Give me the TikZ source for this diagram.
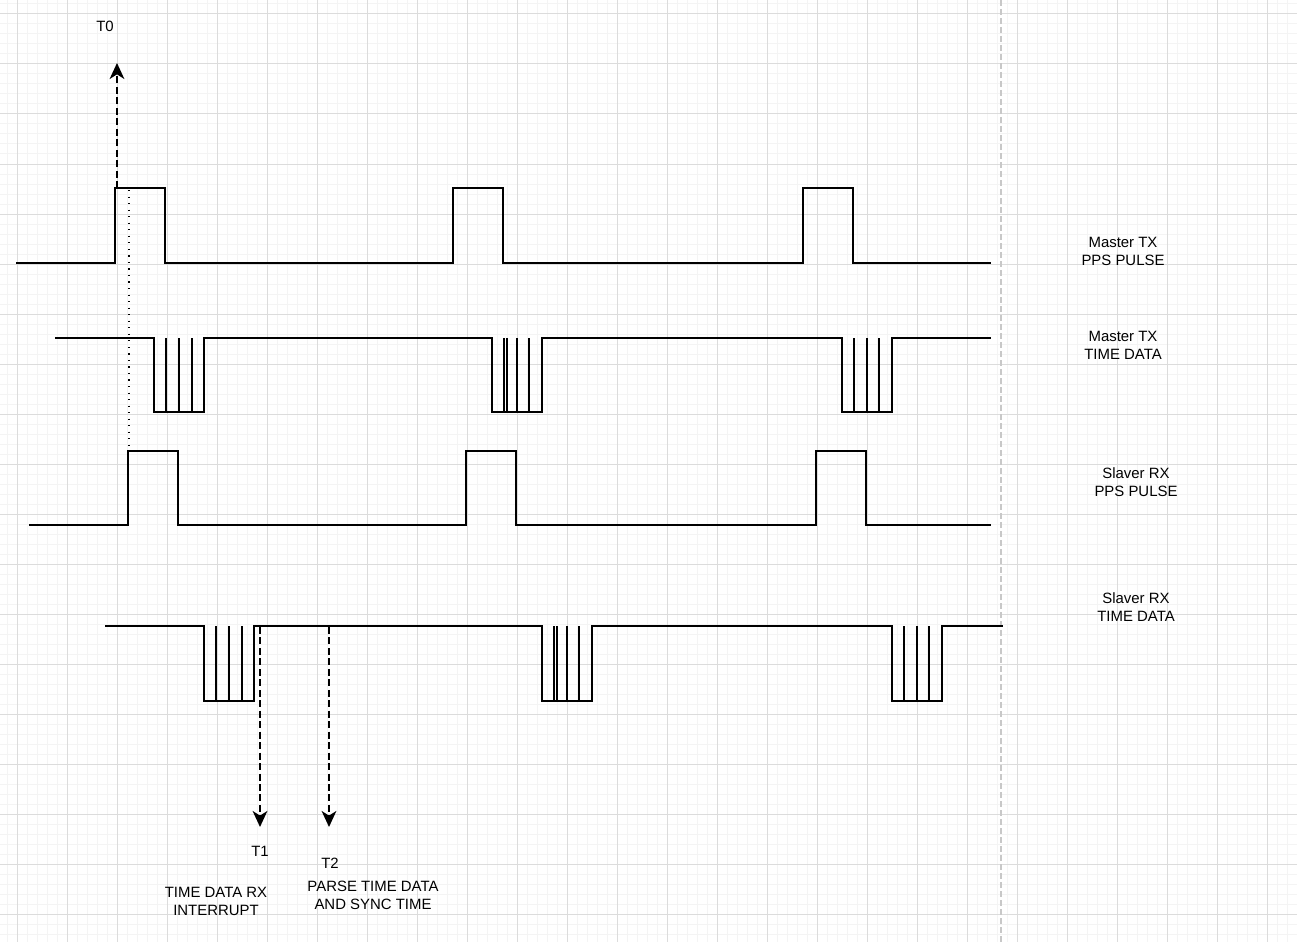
\documentclass[tikz,border=0pt]{standalone}
\usepackage{fontspec}
\setmainfont{Liberation Sans}
\usetikzlibrary{arrows.meta}
\begin{document}
\begin{tikzpicture}[x=0.75pt,y=-0.75pt,
  sig/.style={line width=1.6pt,line join=miter},
  lbl/.style={font=\fontsize{11.2}{13.5}\selectfont,align=center,inner sep=0pt},
  darrow/.style={line width=1.6pt,dash pattern=on 5.25pt off 2.6pt,-{Stealth[length=12pt,width=11pt,inset=3.5pt]}},
  dotline/.style={line width=1pt,dash pattern=on 0.9pt off 4pt},
  minorgrid/.style={draw={rgb,255:red,244;green,244;blue,244},line width=0.75pt},
  majorgrid/.style={draw={rgb,255:red,220;green,220;blue,220},line width=0.75pt}]
\useasboundingbox (0,0) rectangle (1297,942);
\fill[white] (0,0) rectangle (1297,942);
% grid
\foreach \i in {0,...,129} {\draw[minorgrid] (7+10*\i,0) -- (7+10*\i,942);}
\foreach \i in {0,...,94} {\draw[minorgrid] (0,4+10*\i) -- (1297,4+10*\i);}
\foreach \i in {0,...,25} {\draw[majorgrid] (17+50*\i,0) -- (17+50*\i,942);}
\foreach \i in {0,...,18} {\draw[majorgrid] (0,14+50*\i) -- (1297,14+50*\i);}
% page boundary
\draw[draw={rgb,255:red,200;green,200;blue,200},line width=1.1pt,dash pattern=on 4.5pt off 2.25pt] (1001,0) -- (1001,942);
% Master TX PPS
\draw[sig] (16,263) -- (115,263) -- (115,188) -- (165,188) -- (165,263) -- (453,263) -- (453,188) -- (503,188) -- (503,263) -- (803,263) -- (803,188) -- (853,188) -- (853,263) -- (991,263);
% Master TX TIME DATA
\draw[sig] (55,338) -- (154,338) -- (154,412) -- (204,412) -- (204,338) -- (492,338) -- (492,412) -- (542,412) -- (542,338) -- (842,338) -- (842,412) -- (892,412) -- (892,338) -- (991,338);
\foreach \x in {166,179,192, 504,507,517,529, 854,867,879} {\draw[sig] (\x,338) -- (\x,412);}
% Slaver RX PPS
\draw[sig] (29,525) -- (128,525) -- (128,451) -- (178,451) -- (178,525) -- (466,525) -- (466,451) -- (516,451) -- (516,525) -- (816,525) -- (816,451) -- (866,451) -- (866,525) -- (991,525);
% Slaver RX TIME DATA
\draw[sig] (105,626) -- (204,626) -- (204,701) -- (254,701) -- (254,626) -- (542,626) -- (542,701) -- (592,701) -- (592,626) -- (892,626) -- (892,701) -- (942,701) -- (942,626) -- (1003,626);
\foreach \x in {216,229,242, 554,557,567,579, 904,917,929} {\draw[sig] (\x,626) -- (\x,701);}
% arrows
\coordinate (t0s) at (117,188);
\coordinate (t0e) at (117,63);
\coordinate (ds) at (129,190);
\coordinate (de) at (129,451);
\coordinate (t1s) at (260,627);
\coordinate (t1e) at (260,827);
\coordinate (t2s) at (329,627);
\coordinate (t2e) at (329,827);
\draw[darrow] (t0s) -- (t0e);
\draw[dotline] (ds) -- (de);
\draw[darrow] (t1s) -- (t1e);
\draw[darrow] (t2s) -- (t2e);
% labels
\node[lbl] (T0) at (105,26) {T0};
\node[lbl] (T1) at (260,851) {T1};
\node[lbl] (T2) at (330,863) {T2};
\node[lbl] (l1) at (1123,251) {Master TX\\PPS PULSE};
\node[lbl] (l2) at (1123,345) {Master TX\\TIME DATA};
\node[lbl] (l3) at (1136,482) {Slaver RX\\PPS PULSE};
\node[lbl] (l4) at (1136,607) {Slaver RX\\TIME DATA};
\node[lbl] (l5) at (216,901) {TIME DATA RX\\INTERRUPT};
\node[lbl] (l6) at (373,895) {PARSE TIME DATA\\AND SYNC TIME};
\end{tikzpicture}
\end{document}
